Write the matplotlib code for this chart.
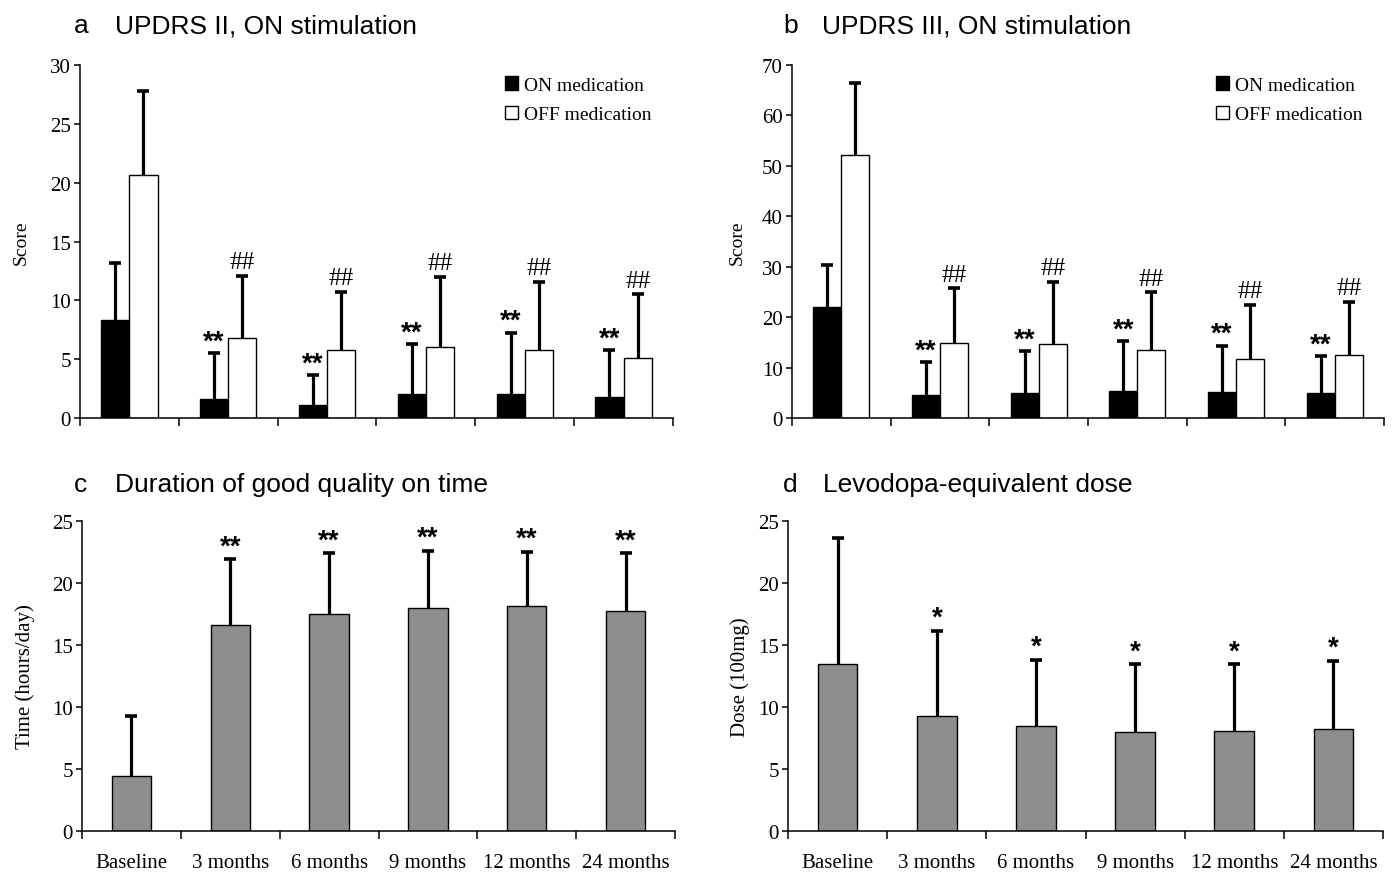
import numpy as np
import matplotlib.pyplot as plt
from matplotlib.patches import Patch

plt.rcParams['font.family'] = ['Liberation Serif', 'DejaVu Serif']

months = ['Baseline', '3 months', '6 months', '9 months', '12 months', '24 months']

# a - UPDRS II, ON stimulation (mean, upper end of error bar)
a_on = [8.35, 1.6, 1.1, 2.0, 2.05, 1.8]
a_on_top = [13.2, 5.5, 3.65, 6.3, 7.25, 5.75]
a_off = [20.65, 6.8, 5.75, 6.0, 5.75, 5.1]
a_off_top = [27.8, 12.05, 10.7, 12.0, 11.55, 10.5]

# b - UPDRS III, ON stimulation
b_on = [22.1, 4.6, 4.9, 5.3, 5.1, 4.9]
b_on_top = [30.3, 11.05, 13.2, 15.2, 14.35, 12.3]
b_off = [52.1, 14.8, 14.7, 13.4, 11.7, 12.5]
b_off_top = [66.5, 25.7, 27.0, 24.9, 22.4, 23.0]

# c - good quality on time (hours/day)
c_val = [4.4, 16.6, 17.5, 17.95, 18.15, 17.7]
c_top = [9.3, 21.9, 22.4, 22.6, 22.5, 22.4]

# d - levodopa-equivalent dose (100mg)
d_val = [13.5, 9.3, 8.45, 8.0, 8.05, 8.25]
d_top = [23.6, 16.15, 13.8, 13.45, 13.45, 13.7]

a_marks = ['', '**', '**', '**', '**', '**']
off_marks = ['', '##', '##', '##', '##', '##']
c_marks = ['', '**', '**', '**', '**', '**']
d_marks = ['', '*', '*', '*', '*', '*']

fig = plt.figure(figsize=(13.98, 8.78), dpi=100)
ax_a = fig.add_axes([0.0572, 0.5228, 0.4242, 0.402])
ax_b = fig.add_axes([0.5665, 0.5228, 0.4235, 0.402])
ax_c = fig.add_axes([0.0587, 0.0524, 0.4241, 0.3531])
ax_d = fig.add_axes([0.5637, 0.0524, 0.4256, 0.3531])

x = np.arange(len(months)) + 0.5


def err_up(ax, xs, val, top):
    # upward-only error bars: stem + top cap
    ax.vlines(xs, val, top, color='black', linewidth=2.3, zorder=3)
    ax.plot(xs, top, ls='none', marker='_', markersize=8, mew=2.6, color='black', zorder=3)


def style(ax, ymax, step):
    ax.set_xlim(0, len(months))
    ax.set_ylim(0, ymax)
    ax.set_yticks(np.arange(0, ymax + 1, step))
    ax.spines['top'].set_visible(False)
    ax.spines['right'].set_visible(False)
    ax.spines['left'].set_linewidth(1.1)
    ax.spines['bottom'].set_linewidth(1.1)
    ax.set_xticks(np.arange(len(months) + 1))
    ax.set_xticklabels([])
    ax.tick_params(axis='x', which='major', direction='out', length=5.5, width=1.1)
    ax.tick_params(axis='y', direction='out', length=4.5, width=1.1, labelsize=15, pad=2)


def marks(ax, xs, tops, labels, fs, fam, dy, weight='normal'):
    for xi, t, lab in zip(xs, tops, labels):
        if lab:
            ax.annotate(lab, (xi, t), xytext=(0, dy), textcoords='offset points',
                        ha='center', va='bottom', fontsize=fs, family=fam,
                        fontweight=weight)


def paired(ax, on, on_top, off, off_top, ymax, step, pad):
    w = 0.285
    ax.bar(x - w / 2, on, w, color='black', edgecolor='black', linewidth=1, zorder=2)
    ax.bar(x + w / 2, off, w, color='white', edgecolor='black', linewidth=1, zorder=2)
    err_up(ax, x - w / 2, on, on_top)
    err_up(ax, x + w / 2, off, off_top)
    marks(ax, x - w / 2, on_top, a_marks, 20, 'Liberation Sans', -1, 'bold')
    marks(ax, x + w / 2, off_top, off_marks, 18, 'Liberation Serif', 2)
    style(ax, ymax, step)
    ax.set_ylabel('Score', fontsize=14, labelpad=pad)
    handles = [Patch(facecolor='black', edgecolor='black'),
               Patch(facecolor='white', edgecolor='black')]
    ax.legend(handles, ['ON medication', 'OFF medication'], loc='upper right',
              bbox_to_anchor=(0.977, 0.99), frameon=False, fontsize=14,
              handlelength=0.7, handleheight=0.7, handletextpad=0.3,
              labelspacing=0.6, borderaxespad=0)


def single(ax, val, top, labels, ylabel, pad):
    w = 0.4
    ax.bar(x, val, w, color='#8e8e8e', edgecolor='black', linewidth=1, zorder=2)
    err_up(ax, x, val, top)
    marks(ax, x, top, labels, 20, 'Liberation Sans', 0, 'bold')
    style(ax, 25, 5)
    ax.set_xticks(x, minor=True)
    ax.set_xticklabels(months, minor=True, fontsize=15)
    ax.tick_params(axis='x', which='minor', length=0, pad=16)
    ax.set_ylabel(ylabel, fontsize=15, labelpad=pad)


paired(ax_a, a_on, a_on_top, a_off, a_off_top, 30, 5, 14.5)
paired(ax_b, b_on, b_on_top, b_off, b_off_top, 70, 10, 12)
single(ax_c, c_val, c_top, c_marks, 'Time (hours/day)', 12.5)
single(ax_d, d_val, d_top, d_marks, 'Dose (100mg)', 6)

sans = 'Liberation Sans'
titles = [(0.053, 0.0823, 0.9624, 'a', 'UPDRS II, ON stimulation'),
          (0.560, 0.5880, 0.9624, 'b', 'UPDRS III, ON stimulation'),
          (0.053, 0.0823, 0.4396, 'c', 'Duration of good quality on time'),
          (0.560, 0.5887, 0.4396, 'd', 'Levodopa-equivalent dose')]
for lx, tx, ty, letter, text in titles:
    fig.text(lx, ty, letter, fontsize=19, family=sans, va='baseline')
    fig.text(tx, ty, text, fontsize=19, family=sans, va='baseline')

fig.savefig('out.png', dpi=100)
